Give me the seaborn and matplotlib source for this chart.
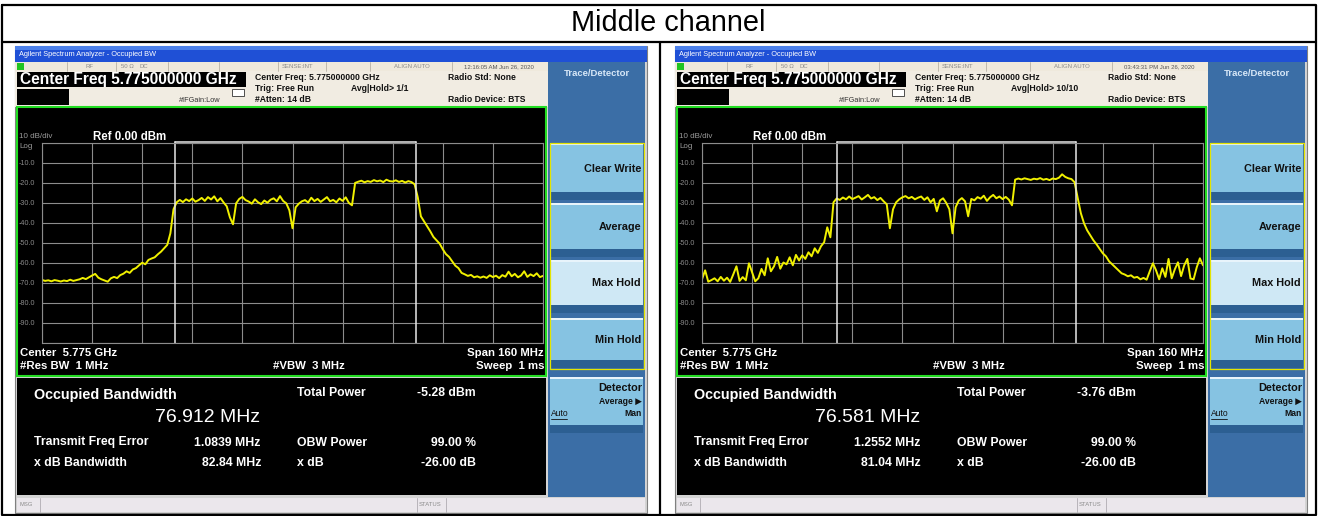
import numpy as np
import pandas as pd
import matplotlib
matplotlib.use("Agg")
import matplotlib.pyplot as plt
import seaborn as sns
from matplotlib.patches import Rectangle

# ---- values read off the two analyzer screens ----
# frequency offset from 5.775 GHz, one point per MHz across the 160 MHz span
freq_mhz = np.arange(-80, 81)

trace_left = [
    -68.3, -68.8, -68.5, -69.0, -68.4, -68.7, -69.1, -68.6, -68.9, -68.2, -68.8, -68.4, -68.0,
    -67.3, -67.9, -67.0, -66.1, -65.3, -67.2, -68.0, -68.6, -69.2,
    -67.5, -66.8, -67.4, -65.9, -65.2, -64.0, -64.8, -63.1, -62.4, -61.0, -59.7, -60.5, -58.3,
    -57.6, -57.0, -55.5, -54.2, -52.5, -50.8, -45.0, -33.0, -29.5,
    -28.3, -29.4, -28.0, -28.9, -27.6, -29.2, -28.4, -27.3, -28.8, -26.9, -28.1, -26.5, -29.0,
    -27.4, -29.6, -31.5, -37.0, -40.5, -30.0, -27.8, -26.8, -28.4,
    -29.1, -30.2, -28.0, -29.5, -30.4, -28.6, -29.7, -28.2, -27.5, -29.0, -26.4, -28.8, -30.0,
    -33.5, -42.5, -32.0, -30.2, -29.0,
    -28.4, -29.6, -27.2, -28.9, -27.8, -29.3, -28.1, -26.9, -29.0, -28.3, -29.5, -27.6, -28.8,
    -27.0, -29.8, -31.0, -19.8,
    -19.2, -18.7, -19.5, -18.9, -19.3, -18.4, -19.0, -18.6, -19.4, -18.2, -18.9, -19.1, -18.5,
    -19.3, -18.8, -19.6, -18.9, -19.4, -20.5, -27.0, -36.5, -39.0, -41.5, -44.0, -46.8, -48.5,
    -50.2, -53.0, -55.4, -56.8, -59.0, -61.2, -62.4, -64.8, -65.5, -66.3, -65.8, -67.0, -66.5, -67.2,
    -66.6, -67.3, -66.0, -66.9, -66.2, -67.4, -65.9, -66.7, -64.2, -66.5, -65.3, -67.0, -66.1,
    -64.0, -66.8, -65.5, -66.4, -65.0, -66.9, -66.3,
]

trace_right = [
    -68.0, -63.5, -69.2, -68.4, -67.5, -69.0, -66.8, -68.7, -67.2, -69.3, -65.5, -61.5, -68.8,
    -66.9, -68.5, -60.0, -64.5, -69.0, -67.5, -62.8, -66.0, -57.5,
    -64.0, -61.5, -56.8, -62.7, -59.6, -60.5, -57.0, -61.0, -55.8, -58.6, -56.0, -57.8, -54.5,
    -56.5, -52.5, -54.8, -51.5, -49.5, -42.0, -47.0, -29.5,
    -27.6, -28.3, -27.1, -28.0, -26.6, -27.9, -27.2, -26.4, -28.1, -27.0, -25.8, -27.6, -26.9,
    -28.4, -27.3, -29.0, -30.5, -42.5, -33.0, -29.5, -28.0, -27.0, -26.4,
    -27.5, -26.8, -28.0, -27.2, -26.6, -28.3, -27.0, -29.5, -27.8, -34.0, -28.6, -27.5, -29.8,
    -33.0, -45.0, -32.0, -28.6, -27.4, -29.0,
    -36.5, -27.8, -28.5, -26.9, -27.7, -26.2, -28.8, -27.0, -25.8, -27.5, -26.6, -27.9, -26.8,
    -28.2, -31.0,
    -18.2, -17.6, -18.1, -17.5, -17.9, -18.3, -17.7, -18.0, -17.4, -18.2, -17.8, -18.4, -17.6,
    -17.9, -17.2, -15.5, -16.8, -17.5, -17.9, -19.5,
    -27.5, -35.0, -40.0, -43.5, -46.0, -48.5, -50.5, -52.8, -55.0, -56.5, -59.0, -60.5, -62.0,
    -63.5, -65.0, -65.6, -66.5, -66.0, -67.2, -66.8, -68.0,
    -67.3, -68.2, -64.0, -60.0, -63.5, -68.0, -62.5, -66.8, -57.8, -67.5, -63.0, -59.5, -66.4,
    -61.0, -57.8, -67.6, -68.0, -62.0, -57.5, -61.0,
]

timestamps = ["12:16:05 AM Jun 26, 2020", "03:43:31 PM Jun 26, 2020"]
avg_hold = ["1/1", "10/10"]
obw_mhz = [76.912, 76.581]
total_power_dbm = [-5.28, -3.76]
freq_error_mhz = [1.0839, 1.2552]
xdb_bw_mhz = [82.84, 81.04]
obw_power_pct = [99.00, 99.00]
xdb_db = [-26.00, -26.00]
level_labels = [-10, -20, -30, -40, -50, -60, -70, -80, -90]
softkeys = ["Clear Write", "Average", "Max Hold", "Min Hold"]

# ---- figure ----
sns.set_theme(style="white")
plt.rcParams['font.family'] = ['Liberation Sans', 'DejaVu Sans']

W, H = 1318, 516
fig = plt.figure(figsize=(W / 100, H / 100), dpi=100)
bg = fig.add_axes([0, 0, 1, 1])
bg.set_xlim(0, W)
bg.set_ylim(H, 0)
bg.axis('off')


def box(x0, y0, x1, y1, fc, ec='none', lw=0.0, z=1):
    bg.add_patch(Rectangle((x0, y0), x1 - x0, y1 - y0, facecolor=fc,
                           edgecolor=ec, linewidth=lw, zorder=z))


def txt(x, y, s, size, color='black', weight='normal', ha='left', z=5):
    bg.text(x, y, s, fontsize=size, color=color, fontweight=weight,
            ha=ha, va='center', zorder=z)


# table frame + caption
bg.plot([2, 1316, 1316, 2, 2], [4.5, 4.5, 515, 515, 4.5], color='black', lw=1.6, zorder=10)
bg.plot([2, 1316], [42, 42], color='black', lw=1.6, zorder=10)
bg.plot([659.5, 659.5], [42, 515], color='black', lw=1.6, zorder=10)
txt(668, 23, "Middle channel", 20.8, ha='center')


def draw_panel(i, trace):
    dx = 660 * i
    X = lambda v: v + dx

    # window frame and title bar
    box(X(15), 46, X(647), 513, '#d4d4d4', ec='#808080', lw=0.8)
    box(X(15), 46, X(647), 62, '#1f50d6')
    box(X(15), 46, X(647), 50, '#4b80ea')
    txt(X(19), 54.5, "Agilent Spectrum Analyzer - Occupied BW", 5.3, 'white')

    # status strip
    box(X(15), 62, X(548), 71, '#efe9dc')
    for sx in [67, 116, 168, 219, 278, 326, 370, 452]:
        bg.plot([X(sx), X(sx)], [62, 71], color='#b8b2a6', lw=0.6, zorder=2)
    box(X(17), 63, X(24), 70, '#21c421', z=2)
    txt(X(86), 66.5, "RF", 4.3, '#8a8a8a')
    txt(X(121), 66.5, "50 Ω", 4.3, '#8a8a8a')
    txt(X(140), 66.5, "DC", 4.3, '#8a8a8a')
    txt(X(297), 66.5, "SENSE:INT", 4.3, '#8a8a8a', ha='center')
    txt(X(412), 66.5, "ALIGN AUTO", 4.3, '#8a8a8a', ha='center')
    txt(X(499), 66.5, timestamps[i], 4.3, '#555555', ha='center')

    # header
    box(X(15), 71, X(548), 107, '#f1ece2')
    box(X(17), 72, X(246), 87, 'black', z=2)
    txt(X(20), 79.8, "Center Freq 5.775000000 GHz", 11.2, 'white', 'bold')
    box(X(17), 89, X(69), 105, 'black', z=2)
    txt(X(179), 101, "#IFGain:Low", 5.3, '#333333')
    box(X(232), 89, X(244), 96, 'white', ec='#333333', lw=0.6, z=2)
    txt(X(254.6), 77, "Center Freq: 5.775000000 GHz", 6.2, '#111111', 'bold')
    txt(X(254.6), 88.5, "Trig: Free Run", 6.2, '#111111', 'bold')
    txt(X(254.6), 99.5, "#Atten: 14 dB", 6.2, '#111111', 'bold')
    txt(X(351), 88.5, f"Avg|Hold> {avg_hold[i]}", 6.2, '#111111', 'bold')
    txt(X(448), 77, "Radio Std: None", 6.2, '#111111', 'bold')
    txt(X(448), 99.5, "Radio Device: BTS", 6.2, '#111111', 'bold')

    # softkey column
    box(X(548), 62, X(645), 497, '#3b6ea6')
    txt(X(597), 74, "Trace/Detector", 6.8, '#d8e8f8', 'bold', ha='center')
    spans = [(143, 200), (203, 257), (260, 313), (318, 368)]
    for label, (top, bot) in zip(softkeys, spans):
        face = '#cfe8f5' if label == "Max Hold" else '#86c3e2'
        box(X(550), top, X(643), bot, face, z=2)
        box(X(550), top, X(643), top + 2, '#e8f4fb', z=3)
        box(X(550), bot - 8, X(643), bot, '#2c5f92', z=3)
        txt(X(641), (top + bot - 8) / 2 + 1, label, 7.8, '#111111', 'bold', ha='right')
    box(X(549.5), 143, X(643.5), 369, 'none', ec='#e4e400', lw=0.9, z=4)
    box(X(550), 377, X(643), 433, '#86c3e2', z=2)
    box(X(550), 377, X(643), 379, '#e8f4fb', z=3)
    box(X(550), 425, X(643), 433, '#2c5f92', z=3)
    txt(X(642), 388, "Detector", 7.8, '#111111', 'bold', ha='right')
    txt(X(642), 401, "Average ▶", 6.2, '#111111', 'bold', ha='right')
    txt(X(551), 414, "Auto", 6.2, '#111111', 'normal')
    bg.plot([X(551), X(567)], [418.5, 418.5], color='#111111', lw=0.6, zorder=5)
    txt(X(642), 414, "Man", 6.2, '#111111', 'bold', ha='right')

    # trace screen
    box(X(17), 107, X(546), 376, 'black', ec='#22dd22', lw=1.5, z=2)
    txt(X(19), 137, "10 dB/div", 5.8, '#9a9a9a')
    txt(X(93), 137, "Ref 0.00 dBm", 8.3, 'white', 'bold')
    txt(X(19), 147, "Log", 5.8, '#9a9a9a')
    for k, lvl in enumerate(level_labels):
        txt(X(19), 143.3 + 20 * (k + 1), f"{lvl:.1f}", 5.2, '#8a8a8a')
    txt(X(20), 353, "Center  5.775 GHz", 8.2, 'white', 'bold')
    txt(X(20), 366, "#Res BW  1 MHz", 8.2, 'white', 'bold')
    txt(X(309), 366, "#VBW  3 MHz", 8.2, 'white', 'bold', ha='center')
    txt(X(544), 353, "Span 160 MHz", 8.2, 'white', 'bold', ha='right')
    txt(X(544), 366, "Sweep  1 ms", 8.2, 'white', 'bold', ha='right')

    # measurement results
    box(X(17), 378, X(546), 495, 'black', z=2)
    txt(X(33.7), 395, "Occupied Bandwidth", 10.4, 'white', 'bold')
    txt(X(260), 418, f"{obw_mhz[i]:.3f} MHz", 14, 'white', ha='right')
    txt(X(296.7), 393.3, "Total Power", 8.8, 'white', 'bold')
    txt(X(475.6), 393.3, f"{total_power_dbm[i]:.2f} dBm", 8.8, 'white', 'bold', ha='right')
    txt(X(33.7), 442.5, "Transmit Freq Error", 8.8, 'white', 'bold')
    txt(X(261), 442.5, f"{freq_error_mhz[i]:.4f} MHz", 8.8, 'white', 'bold', ha='right')
    txt(X(296.7), 442.5, "OBW Power", 8.8, 'white', 'bold')
    txt(X(475.6), 442.5, f"{obw_power_pct[i]:.2f} %", 8.8, 'white', 'bold', ha='right')
    txt(X(33.7), 463.3, "x dB Bandwidth", 8.8, 'white', 'bold')
    txt(X(261), 463.3, f"{xdb_bw_mhz[i]:.2f} MHz", 8.8, 'white', 'bold', ha='right')
    txt(X(296.7), 463.3, "x dB", 8.8, 'white', 'bold')
    txt(X(475.6), 463.3, f"{xdb_db[i]:.2f} dB", 8.8, 'white', 'bold', ha='right')

    # message bar
    box(X(17), 498, X(645), 512, '#ebe7ec', z=2)
    for sx in [40, 416.7, 446]:
        bg.plot([X(sx), X(sx)], [498, 512], color='#b0acb2', lw=0.6, zorder=3)
    txt(X(19), 505, "MSG", 4.2, '#8a8a8a')
    txt(X(419), 505, "STATUS", 4.2, '#8a8a8a')

    # spectrum trace, grid 10 x 10 divisions
    gx0, gx1, gy0, gy1 = X(42), X(543), 143.3, 343.3
    ax = fig.add_axes([gx0 / W, 1 - gy1 / H, (gx1 - gx0) / W, (gy1 - gy0) / H])
    ax.set_facecolor('black')
    ax.set_axisbelow(True)
    df = pd.DataFrame({'freq': freq_mhz, 'level': trace})
    sns.lineplot(data=df, x='freq', y='level', ax=ax, color='#f0f000', lw=1.4)
    ax.set_xlim(-80, 80)
    ax.set_ylim(-100, 0)
    ax.set_xticks(np.linspace(-80, 80, 11))
    ax.set_yticks(np.arange(-100, 1, 10))
    ax.grid(True, color='#8c8c8c', lw=0.8)
    ax.tick_params(length=0, labelbottom=False, labelleft=False)
    ax.set_xlabel('')
    ax.set_ylabel('')
    for s in ax.spines.values():
        s.set_color('#8c8c8c')
        s.set_linewidth(0.8)

    # occupied bandwidth markers
    lo = freq_error_mhz[i] - obw_mhz[i] / 2
    hi = freq_error_mhz[i] + obw_mhz[i] / 2
    for f in (lo, hi):
        ax.plot([f, f], [-100, 0.9], color='#e8e8e8', lw=1.1, clip_on=False)
    ax.plot([lo, hi], [0.9, 0.9], color='#e8e8e8', lw=1.1, clip_on=False)


draw_panel(0, trace_left)
draw_panel(1, trace_right)

fig.savefig("out.png", dpi=100)
